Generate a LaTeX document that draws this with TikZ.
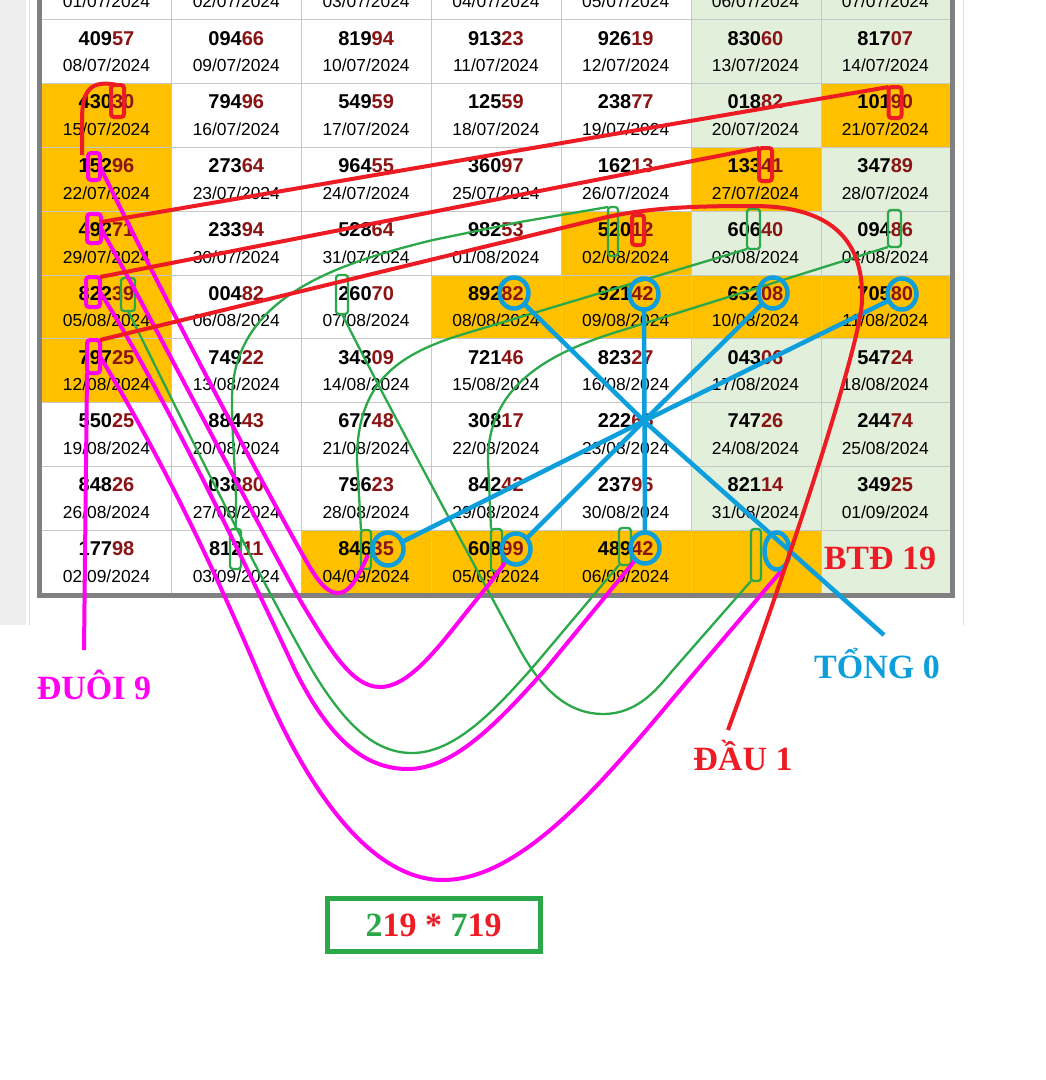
\documentclass[tikz,border=0pt]{standalone}
\usepackage{fontspec}
\setmainfont{Liberation Sans}
\newfontfamily\labelfont{Liberation Serif}
\usepackage{tikz}
\usetikzlibrary{shapes.geometric}
\definecolor{cellorange}{HTML}{FFC000}
\definecolor{cellgreen}{HTML}{E2EFDA}
\definecolor{tailred}{HTML}{8B1515}
\definecolor{markred}{HTML}{ED1C24}
\definecolor{markpink}{HTML}{FF00F0}
\definecolor{markgreen}{HTML}{2BA84A}
\definecolor{markblue}{HTML}{0D9FDC}
\tikzset{
    numtext/.style = {anchor = base, inner sep = 0pt, font = \fontsize{20}{20}\selectfont\bfseries},
    daytext/.style = {anchor = base, inner sep = 0pt, font = \fontsize{17.4}{18}\selectfont},
    bigtext/.style = {inner sep = 0pt, font = \labelfont\fontsize{34}{34}\selectfont\bfseries},
    redline/.style = {draw = markred, line width = 4pt},
    pinkline/.style = {draw = markpink, line width = 4pt},
    greenline/.style = {draw = markgreen, line width = 2.3pt},
    blueline/.style = {draw = markblue, line width = 4.5pt},
    redbox/.style = {redline, rectangle, rounded corners = 3pt, inner sep = 0pt, outer sep = 0pt},
    pinkbox/.style = {pinkline, rectangle, rounded corners = 3pt, inner sep = 0pt, outer sep = 0pt},
    greenbox/.style = {greenline, rectangle, rounded corners = 3pt, inner sep = 0pt, outer sep = 0pt},
    bluering/.style = {blueline, ellipse, inner sep = 0pt, outer sep = 0pt, minimum width = 29pt, minimum height = 31pt}
}
\begin{document}
\begin{tikzpicture}[x = 1pt, y = -1pt]
    \useasboundingbox (0,0) rectangle (1046,1080);
    \clip (0,0) rectangle (1046,1080);
    % page behind the table
    \fill[white] (0,0) rectangle (1046,1080);
    \fill[black!7] (0,0) rectangle (26,625);
    \draw[black!12] (29.5,0) -- (29.5,625);
    \draw[black!12] (963.5,0) -- (963.5,625);
    % table cells
    \fill[cellgreen] (691,-50) rectangle (950,593.5);
    \foreach \colno/\rowno in {0/2,6/2,0/3,5/3,0/4,4/4,0/5,3/5,4/5,5/5,6/5,0/6,2/9,3/9,4/9,5/9}
        \fill[cellorange] (42+129.8*\colno,19.5+63.8*\rowno-63.8) rectangle ++(129.8,63.8);
    \foreach \xline in {171.5,301.5,431.5,561,691,821}
        \draw[black!22] (\xline,-50) -- (\xline,593.5);
    \foreach \rowno in {1,...,9}
        \draw[black!22] (42,19.5+63.8*\rowno-63.8) -- (950,19.5+63.8*\rowno-63.8);
    \draw[black!50, line width = 5pt] (39.5,-50) rectangle (952.5,595.5);
    % numbers and dates
    \foreach \head/\tail/\dd/\mm [count = \k from 0] in {
        {}/{}/01/07,{}/{}/02/07,{}/{}/03/07,{}/{}/04/07,{}/{}/05/07,{}/{}/06/07,{}/{}/07/07,
        409/57/08/07,094/66/09/07,819/94/10/07,913/23/11/07,926/19/12/07,830/60/13/07,817/07/14/07,
        430/30/15/07,794/96/16/07,549/59/17/07,125/59/18/07,238/77/19/07,018/82/20/07,101/90/21/07,
        152/96/22/07,273/64/23/07,964/55/24/07,360/97/25/07,162/13/26/07,133/41/27/07,347/89/28/07,
        492/71/29/07,233/94/30/07,528/64/31/07,982/53/01/08,520/12/02/08,606/40/03/08,094/86/04/08,
        822/39/05/08,004/82/06/08,260/70/07/08,892/82/08/08,921/42/09/08,632/08/10/08,705/80/11/08,
        797/25/12/08,749/22/13/08,343/09/14/08,721/46/15/08,823/27/16/08,043/06/17/08,547/24/18/08,
        550/25/19/08,884/43/20/08,677/48/21/08,308/17/22/08,222/65/23/08,747/26/24/08,244/74/25/08,
        848/26/26/08,038/80/27/08,796/23/28/08,842/42/29/08,237/96/30/08,821/14/31/08,349/25/01/09,
        177/98/02/09,812/11/03/09,846/35/04/09,608/99/05/09,489/42/06/09} {
        \pgfmathtruncatemacro{\colno}{mod(\k,7)}
        \pgfmathtruncatemacro{\rowno}{int(\k/7)}
        \node (num_\k)[numtext] at (106.5+129.8*\colno,-44.3+63.8*\rowno+25.5) {\head\textcolor{tailred}{\tail}};
        \node (day_\k)[daytext] at (106.5+129.8*\colno,-44.3+63.8*\rowno+52.2) {\dd/\mm/2024};
    }
    \node (btd_label)[bigtext, text = markred] at (880,558) {BTĐ 19};
    % red boxes
    \node (red_43030)[redbox, minimum width = 13pt, minimum height = 32pt] at (117.5,101) {};
    \node (red_10190)[redbox, minimum width = 13pt, minimum height = 31pt] at (895,102.5) {};
    \node (red_13341)[redbox, minimum width = 13pt, minimum height = 33pt] at (765.5,164.5) {};
    \node (red_52012)[redbox, minimum width = 12pt, minimum height = 30pt] at (638,230) {};
    % pink boxes
    \node (pink_15)[pinkbox, minimum width = 12pt, minimum height = 27pt] at (94,166.5) {};
    \node (pink_49)[pinkbox, minimum width = 14pt, minimum height = 29pt] at (94,228.5) {};
    \node (pink_82)[pinkbox, minimum width = 14pt, minimum height = 30pt] at (93,292) {};
    \node (pink_79)[pinkbox, minimum width = 13pt, minimum height = 33pt] at (93.5,356.5) {};
    % green boxes
    \node (green_82239)[greenbox, minimum width = 14pt, minimum height = 33pt] at (128,294.5) {};
    \node (green_26070)[greenbox, minimum width = 12pt, minimum height = 39pt] at (342,294.5) {};
    \node (green_52012)[greenbox, minimum width = 10pt, minimum height = 49pt] at (613,231.5) {};
    \node (green_60640)[greenbox, minimum width = 13pt, minimum height = 40pt] at (753.5,229) {};
    \node (green_09486)[greenbox, minimum width = 13pt, minimum height = 37pt] at (894.5,228.5) {};
    \node (green_81211)[greenbox, minimum width = 11pt, minimum height = 40pt] at (235.5,549) {};
    \node (green_84635)[greenbox, minimum width = 10pt, minimum height = 39pt] at (366,549.5) {};
    \node (green_60899)[greenbox, minimum width = 11pt, minimum height = 42pt] at (496.5,550) {};
    \node (green_48942)[greenbox, minimum width = 12pt, minimum height = 37pt] at (625,546.5) {};
    \node (green_empty)[greenbox, minimum width = 10pt, minimum height = 52pt] at (756,555) {};
    % green curves
    \draw[greenline] (green_52012.north west) -- (520,222) -- (433,240) .. controls (330,265) and (232,300) .. (232,400) .. controls (232,450) and (238,490) .. (green_81211.north);
    \draw[greenline] (green_60640.south west) -- (467,333) .. controls (400,353) and (357,380) .. (357,460) -- (green_84635.north west);
    \draw[greenline] (green_09486.south west) -- (623,330) .. controls (550,352) and (488,385) .. (488,460) -- (green_60899.north west);
    \draw[greenline] (green_26070.south) .. controls (380,390) and (450,520) .. (520,650) .. controls (545,695) and (572,714) .. (603,714) .. controls (640,714) and (660,685) .. (673,670) -- (green_empty.south west);
    \draw[greenline] (green_82239.south) .. controls (170,395) and (260,580) .. (312,670) .. controls (345,725) and (375,753) .. (412,753) .. controls (455,753) and (495,710) .. (533,667) -- (green_48942.south west);
    % pink curves
    \coordinate (pink_end_35) at (368,555);
    \coordinate (pink_end_99) at (507,560);
    \coordinate (pink_end_42) at (637,558);
    \coordinate (pink_end_gap) at (782,570);
    \coordinate (pink_tail) at (84,650);
    \path(pink_79.south west) edge[pinkline] (pink_tail);
    \draw[pinkline] (pink_15.east) .. controls (160,290) and (255,470) .. (300,550) .. controls (315,577) and (325,593) .. (338,593) .. controls (350,593) and (358,577) .. (pink_end_35);
    \draw[pinkline] (pink_49.east) .. controls (150,315) and (250,510) .. (300,600) .. controls (330,650) and (352,687) .. (380,687) .. controls (415,687) and (450,630) .. (487,587) -- (pink_end_99);
    \draw[pinkline] (pink_82.east) .. controls (150,370) and (230,530) .. (295,670) .. controls (330,740) and (365,769) .. (408,769) .. controls (455,769) and (500,720) .. (545,670) -- (pink_end_42);
    \draw[pinkline] (pink_79.east) .. controls (160,455) and (210,560) .. (257,670) .. controls (310,800) and (375,880) .. (443,880) .. controls (530,880) and (620,760) .. (697,670) -- (pink_end_gap);
    % blue rings and spokes
    \node (blue_89282)[bluering] at (514,293) {};
    \node (blue_92142)[bluering] at (644,294) {};
    \node (blue_63208)[bluering] at (773,293) {};
    \node (blue_70580)[bluering] at (902,294) {};
    \node (blue_84635)[bluering, minimum width = 31pt, minimum height = 33pt] at (388,549) {};
    \node (blue_60899)[bluering] at (516,549) {};
    \node (blue_48942)[bluering] at (645,548) {};
    \node (blue_empty)[bluering, minimum width = 25pt, minimum height = 37pt] at (777,551) {};
    \coordinate (blue_hub) at (644,421);
    \coordinate (blue_tail) at (884,635);
    \draw[blueline] (blue_89282.south east) -- (blue_hub) -- (blue_tail);
    \path(blue_92142) edge[blueline] (blue_48942);
    \draw[blueline] (blue_63208) -- (blue_hub) -- (blue_60899);
    \draw[blueline] (blue_70580) -- (blue_hub) -- (blue_84635);
    % red lines
    \coordinate (red_tail) at (82,155);
    \coordinate (red_end) at (728,730);
    \draw[redline] (red_43030.north) .. controls (92,80) and (82,88) .. (82,120) -- (red_tail);
    \draw[redline] ([yshift = -8pt]pink_49.north east) -- (red_10190.north west);
    \draw[redline] (pink_82.north east) -- (red_13341.north west);
    \draw[redline] (pink_79.north east) -- (603,218) .. controls (650,207) and (700,206) .. (753,206) .. controls (825,206) and (864,235) .. (862,300) .. controls (862,340) and (790,560) .. (red_end);
    % labels below the table
    \node (duoi_label)[bigtext, text = markpink] at (94,685) {ĐUÔI 9};
    \node (tong_label)[bigtext, text = markblue] at (877,664) {TỔNG 0};
    \node (dau_label)[bigtext, text = markred] at (743,756) {ĐẦU 1};
    \node (result_box)[bigtext, draw = markgreen, line width = 5pt, minimum width = 213pt, minimum height = 53pt] at (433.5,925) {\textcolor{markgreen}{2}\textcolor{markred}{19 * }\textcolor{markgreen}{7}\textcolor{markred}{19}};
\end{tikzpicture}
\end{document}
